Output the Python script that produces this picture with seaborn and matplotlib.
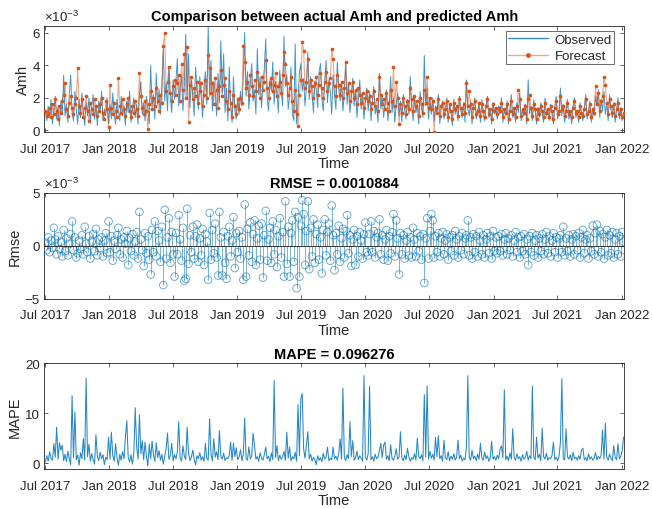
import numpy as np
import pandas as pd
import matplotlib
matplotlib.use("Agg")
import matplotlib.pyplot as plt
import matplotlib.dates as mdates
from matplotlib.lines import Line2D
import seaborn as sns

# ---------------- data (Amh values in units of 1e-3, sampled every 4 days) ----------------
start_date = "2017-07-03"
step_days = 4

observed = [
    1.1, 0.6, 1.5, 0.8, 1.9, 0.4, 1.2, 2.1, 0.7, 1.4, 0.3, 1.8, 1.0, 3.4, 0.9, 1.6, 0.5, 2.2, 3.4, 1.1, 0.6, 2.4, 1.3,
    0.4, 1.9, 0.8, 2.3, 1.2, 0.3, 1.7, 0.9, 2.0, 0.5, 1.4, 2.2, 0.7, 1.5, 0.3, 1.8, 1.1, 2.4, 0.6, 1.3, 0.9, 2.0, 0.4,
    1.6, 0.7, 2.3, 1.0, 0.4, 1.9, 1.2, 0.6, 2.1, 0.9, 1.5, 0.3, 1.8, 1.1, 2.4, 0.5, 1.3, 2.0, 0.8, 1.6, 0.4, 2.2, 3.0,
    1.0, 1.7, 0.6, 2.1, 1.3, 0.4, 4.0, 1.5, 2.2, 0.7, 3.5, 1.6, 2.5, 1.0, 2.8, 5.0, 1.8, 2.9, 1.2, 3.9, 2.0, 1.1, 3.1,
    1.9, 3.0, 4.4, 1.5, 2.6, 3.4, 1.2, 2.8, 5.9, 2.0, 4.7, 1.4, 3.1, 2.2, 0.9, 3.9, 2.5, 1.3, 3.3, 2.0, 0.8, 2.7, 3.6,
    1.6, 6.4, 2.1, 4.3, 1.2, 3.0, 2.4, 0.9, 3.5, 1.7, 5.5, 2.3, 4.7, 1.1, 2.6, 0.6, 3.9, 1.4, 0.5, 3.3, 1.2, 0.7, 2.0,
    1.0, 2.4, 1.5, 3.2, 6.0, 2.1, 3.6, 1.3, 2.8, 4.1, 1.8, 2.5, 1.0, 5.0, 2.2, 3.3, 1.4, 2.9, 3.8, 5.6, 2.0, 1.2, 3.1,
    2.4, 4.2, 1.6, 3.0, 2.2, 1.1, 3.7, 2.5, 1.5, 5.8, 2.7, 3.4, 1.3, 2.1, 3.9, 1.0, 0.6, 5.3, 0.4, 1.8, 3.6, 4.1, 2.4,
    3.2, 1.5, 2.7, 4.8, 1.9, 3.3, 2.2, 1.1, 3.0, 2.5, 1.4, 3.6, 4.1, 2.0, 1.2, 2.9, 4.3, 1.7, 3.1, 2.4, 1.0, 3.4, 2.2,
    1.3, 4.2, 2.6, 1.8, 3.0, 1.2, 2.3, 4.1, 1.6, 2.8, 1.1, 2.0, 3.2, 1.5, 2.5, 0.8, 1.9, 3.1, 1.3, 2.2, 0.7, 1.7, 2.6,
    1.2, 2.4, 0.6, 1.8, 2.7, 1.0, 1.5, 0.5, 3.5, 1.3, 2.1, 0.8, 1.7, 2.5, 0.6, 1.4, 3.3, 1.1, 2.0, 0.5, 1.6, 2.3, 0.9,
    1.8, 0.5, 2.2, 1.2, 0.7, 1.9, 1.0, 3.3, 1.4, 0.6, 2.1, 1.1, 1.6, 0.4, 2.4, 1.3, 0.8, 4.6, 1.5, 2.6, 0.7, 1.9, 1.0,
    2.0, 0.6, 1.5, 1.0, 2.2, 0.4, 1.3, 1.8, 0.7, 1.2, 2.0, 0.5, 1.6, 1.1, 0.3, 1.9, 1.0, 1.4, 0.6, 2.1, 1.2, 0.8, 1.7,
    0.5, 3.1, 1.3, 0.9, 1.8, 0.4, 1.4, 2.0, 0.7, 1.1, 1.6, 0.5, 1.9, 1.0, 0.6, 1.5, 2.1, 0.8, 1.2, 0.4, 1.7, 1.0, 1.4,
    0.7, 1.5, 1.0, 2.0, 0.5, 1.3, 0.9, 1.8, 0.4, 1.2, 2.2, 0.8, 1.4, 0.5, 1.7, 1.1, 2.3, 0.6, 1.3, 0.9, 1.6, 0.4, 3.1,
    1.0, 1.5, 0.6, 1.9, 1.2, 0.4, 1.4, 0.8, 1.7, 1.1, 0.5, 2.0, 0.9, 1.3, 0.6, 1.6, 1.0, 0.4, 1.5, 2.1, 0.7, 1.2, 2.6,
    0.9, 1.6, 0.5, 1.3, 1.9, 0.7, 1.1, 0.4, 1.5, 2.0, 0.8, 1.2, 0.5, 1.7, 1.0, 0.6, 1.4, 2.2, 0.7, 1.1, 1.8, 0.5, 1.3,
    0.9, 2.1, 1.5, 2.5, 0.8, 1.9, 1.2, 2.4, 1.0, 1.6, 0.6, 2.2, 1.3, 0.8, 1.7, 0.5, 1.2, 2.0, 0.7, 1.4, 0.6, 1.0,
]

forecast = [
    1.2, 0.9, 1.1, 1.4, 0.8, 1.6, 1.0, 1.9, 1.2, 0.7, 1.5, 1.1, 1.8, 2.2, 2.9, 1.3, 0.9, 1.7, 2.1, 1.4, 1.0, 1.6, 2.0,
    3.8, 1.5, 1.1, 1.9, 0.8, 1.4, 2.1, 1.2, 0.6, 1.7, 1.3, 1.0, 1.9, 1.5, 0.9, 1.2, 1.6, 2.0, 1.1, 0.7, 1.8, 1.3, 0.2,
    2.8, 1.4, 1.0, 1.7, 1.2, 0.8, 3.2, 1.5, 1.1, 1.9, 1.3, 0.9, 1.6, 2.0, 1.2, 0.8, 1.5, 1.1, 1.8, 1.3, 0.9, 3.5, 2.1,
    1.4, 1.0, 1.8, 1.2, 0.1, 1.6, 2.4, 1.3, 2.0, 1.5, 2.6, 1.8, 1.2, 2.2, 1.7, 5.2, 6.0, 2.4, 3.0, 3.9, 2.3, 1.8, 2.7,
    3.1, 2.2, 2.9, 3.4, 1.8, 4.1, 2.5, 4.7, 2.0, 5.1, 0.5, 2.8, 3.3, 1.9, 2.6, 2.1, 3.0, 1.7, 2.4, 2.9, 1.5, 2.2, 3.1,
    2.0, 4.6, 3.8, 2.3, 2.9, 1.6, 3.2, 2.5, 1.4, 2.7, 3.7, 2.1, 2.8, 3.2, 1.8, 1.3, 2.4, 1.7, 0.8, 2.2, 1.5, 1.0, 1.9,
    1.3, 2.0, 1.7, 5.2, 4.2, 2.6, 3.0, 2.2, 3.4, 2.7, 2.1, 3.1, 2.4, 3.6, 2.8, 2.0, 3.3, 2.5, 3.0, 4.3, 2.6, 2.0, 2.9,
    3.2, 2.4, 2.8, 3.5, 2.1, 2.7, 3.0, 2.3, 3.4, 4.8, 4.1, 2.9, 2.2, 2.6, 3.3, 1.8, 1.2, 2.5, 1.0, 0.3, 2.2, 3.1, 5.4,
    4.9, 2.6, 3.0, 4.4, 2.4, 3.1, 2.7, 2.0, 2.9, 3.3, 2.2, 2.8, 3.5, 2.6, 2.0, 3.0, 3.6, 2.4, 2.9, 3.2, 5.0, 4.4, 2.7,
    2.1, 3.4, 2.8, 2.2, 3.0, 2.0, 2.6, 4.2, 2.3, 2.9, 1.8, 2.4, 3.0, 2.0, 2.5, 1.6, 2.6, 2.2, 1.7, 2.3, 1.4, 2.0, 2.4,
    1.8, 2.1, 1.3, 1.7, 2.4, 1.5, 1.9, 1.2, 3.3, 2.2, 1.6, 1.9, 1.3, 2.3, 1.7, 1.2, 2.5, 1.8, 3.9, 1.5, 3.0, 2.0, 0.4,
    1.6, 1.1, 2.0, 1.5, 1.0, 1.8, 1.3, 2.6, 1.9, 1.2, 2.1, 1.5, 1.8, 0.9, 2.0, 1.6, 1.1, 2.5, 1.7, 3.3, 1.4, 2.0, 1.3,
    1.8, -0.1, 1.4, 1.1, 1.9, 0.9, 1.5, 1.7, 1.0, 1.3, 1.8, 0.8, 1.6, 1.2, 0.7, 1.7, 1.3, 1.5, 0.9, 1.9, 1.4, 1.0, 1.6,
    1.1, 2.9, 1.5, 2.4, 1.6, 0.8, 1.4, 1.8, 1.0, 1.2, 1.7, 0.9, 1.6, 1.2, 0.8, 1.5, 1.9, 1.0, 1.3, 0.7, 1.6, 1.2, 1.4,
    1.0, 1.4, 1.2, 1.7, 0.8, 1.3, 1.1, 1.6, 0.7, 1.2, 1.8, 1.0, 1.4, 0.8, 1.5, 2.5, 1.9, 0.9, 1.3, 1.1, 1.5, 0.7, 1.9,
    2.2, 1.4, 0.9, 1.6, 1.3, 0.7, 1.3, 1.0, 1.5, 1.2, 0.8, 1.7, 1.1, 1.3, 0.8, 1.5, 1.2, 0.7, 1.4, 1.8, 1.0, 1.2, 2.1,
    1.3, 1.5, 0.9, 1.2, 1.7, 1.0, 1.2, 0.8, 1.4, 1.8, 1.1, 1.2, 0.8, 1.5, 1.1, 0.9, 1.3, 1.9, 1.0, 1.2, 1.6, 0.8, 1.3,
    1.1, 2.7, 1.6, 2.3, 1.2, 1.8, 2.1, 3.3, 2.8, 1.7, 1.0, 1.9, 1.5, 1.1, 1.6, 0.9, 1.3, 1.7, 1.0, 1.3, 0.8, 1.1,
]

# residuals (units of 1e-3)
error = [
    0.3, -0.4, 0.8, -0.6, 0.5, -0.2, 1.7, 0.6, -0.8, 0.9, -0.3, 0.4, -1.0, 1.5, -0.5, 0.7, -0.9, 0.2, 1.1, 2.3, -0.4, 0.8, -1.1,
    -0.7, 0.5, -0.3, 1.0, -0.8, 1.8, 0.2, -0.6, 0.9, -1.2, 0.4, 1.1, -0.5, 1.6, -0.9, 0.6, -0.2, 0.8, -1.0, 0.5, 1.2, -0.7, 2.3,
    -0.6, 0.9, -1.4, 0.5, -0.3, 1.0, 1.7, -0.8, 0.6, -1.1, 0.8, 0.2, 1.4, -1.8, 0.7, -0.5, 1.1, -0.9, 0.4, 1.3, -1.2, 3.2, 0.6,
    -0.4, -1.9, 1.2, -0.7, 0.9, -1.3, -2.7, 1.5, -0.6, 2.3, -1.0, 1.4, 0.5, -1.5, 1.8, -3.7, 3.4, -1.2, 0.8, 2.6, -1.6, 1.3, -0.8,
    -2.9, 1.2, -0.8, 2.9, 0.6, -1.4, 1.7, -3.3, -3.1, 3.5, -1.7, 1.0, -0.6, 1.8, -1.2, 0.9, 2.0, -1.5, 0.7, -0.9, 1.6, -1.8, 1.1,
    0.4, -3.2, 3.1, -1.3, 1.5, -0.7, 2.1, -1.1, -2.8, 3.2, 0.8, -2.8, 1.3, -1.6, -3.1, 0.9, 1.8, -1.0, 0.5, 2.7, -2.1, 1.2, -0.6,
    1.4, -1.2, 0.8, -3.2, 3.9, -2.9, 1.6, -0.9, 2.2, -1.5, 1.1, 2.4, -1.8, 0.7, 1.9, -1.3, 2.1, -3.0, 1.0, 3.3, -1.4, 0.6, 1.7,
    -1.6, 2.3, -0.8, 1.5, -2.0, 0.9, 2.6, -1.1, 1.3, -2.9, 4.2, -1.7, 1.8, -2.9, 1.2, 2.4, -1.5, 3.2, -4.0, 2.7, -2.9, 1.9, 4.3,
    3.0, -1.8, 1.4, 4.2, -2.2, 1.7, -1.0, 2.5, -1.6, 1.1, 2.0, -1.3, 0.8, -2.6, 1.5, 2.5, -0.9, 1.3, 2.1, -1.4, 3.8, 1.0, -2.3,
    1.2, -0.8, 1.9, -1.5, 0.7, 1.6, -1.1, 1.4, 2.9, -0.7, 1.0, -1.9, 0.6, 1.5, -1.8, 0.9, -1.0, 1.3, 0.5, -1.2, 1.1, 2.2, -0.6,
    -0.9, 1.1, 2.3, -0.6, 1.4, -1.1, 0.8, 1.2, 2.5, -0.8, 1.0, -1.3, 0.6, 1.5, -1.4, 0.9, -0.7, 1.3, 3.0, -1.0, 2.4, 0.7, -2.7,
    1.2, -0.8, 1.0, -1.2, 0.5, 1.3, -0.9, 0.8, -1.1, 1.7, 0.6, -1.0, 1.2, -0.5, 0.9, -1.3, 1.1, -3.5, 0.7, 2.6, -1.2, 1.4, 3.0,
    2.4, -1.1, 0.9, -0.6, 1.2, -1.0, 0.7, 1.3, -0.8, 0.5, 1.1, -1.3, 0.8, -0.5, 1.0, -0.9, 1.4, 0.6, -1.1, 0.9, -0.4, 1.2, -0.8,
    0.7, 1.0, 2.4, -0.9, 0.8, -1.2, 1.1, -0.6, 0.9, -1.0, 1.3, 0.5, -0.8, 1.0, -1.1, 0.6, 1.2, -0.7, 0.9, -1.2, 1.4, -0.5, 0.8,
    -0.7, 0.9, -0.5, 1.1, -0.9, 0.6, 1.2, -0.8, 0.7, -0.4, 1.0, -1.0, 0.5, 1.3, -0.6, 0.8, -1.1, 0.9, -0.5, 1.1, -0.8, 0.6, -1.8,
    0.9, -0.6, 1.2, -0.9, 0.5, 1.0, -1.1, 0.7, -0.5, 1.1, -0.8, 0.6, 1.3, -0.7, 0.9, -1.0, 0.5, 1.2, -0.6, 0.8, -1.1, 0.7, 1.0,
    -0.6, 1.8, -0.9, 0.7, -0.5, 1.0, -1.0, 0.6, 1.1, -0.8, 0.9, -0.4, 1.2, -1.1, 0.8, 1.5, -0.7, 0.6, 1.0, -1.2, 0.7, -0.5, 1.9,
    -0.8, 1.2, 2.0, -1.0, 1.4, -0.6, 1.1, -1.2, 0.8, 1.5, -0.9, 1.0, -0.7, 1.3, -1.1, 0.6, 1.2, -0.8, 0.9, -1.0, 1.3, 0.4,
]

mape = [
    0.2, 1.5, 0.4, 2.3, 1.0, 0.6, 3.9, 1.2, 7.2, 0.8, 4.1, 2.6, 3.6, 0.5, 1.8, 0.3, 2.4, 0.9, -0.3, 13.5, 1.1, 10.2, 0.7,
    1.6, -0.4, 2.1, 0.9, 4.9, 0.6, 17.0, 1.3, 3.8, 0.4, 1.9, 0.8, -0.2, 5.7, 1.4, 0.5, 2.2, 0.9, 1.7, -0.3, 1.2, 0.7, 5.2,
    0.8, 6.2, 1.5, 0.4, 3.9, 1.1, -0.4, 1.8, 0.6, 2.3, 0.9, 5.2, 8.5, 1.2, 0.3, 1.7, -0.2, 2.0, 11.1, 3.4, 0.8, 9.7, 1.9,
    4.5, 0.7, 4.2, 1.3, -0.5, 3.8, 0.9, 4.4, 1.6, 0.4, 4.1, 1.1, 2.5, 0.6, 1.8, -0.2, 1.4, 2.9, 6.0, 0.8, 1.5, 4.0, 0.5,
    1.7, 0.9, 2.2, 8.3, 1.0, 0.4, 3.5, 1.4, 0.7, 7.2, 2.0, 0.5, 1.2, 2.6, 0.8, -0.3, 1.5, 0.9, 2.1, 0.6, 1.3, 0.4, 4.0,
    1.0, 0.6, 8.9, 1.7, 0.5, 4.9, 1.2, 2.3, 0.7, 6.5, 1.4, 0.8, 2.0, 0.5, 1.1, 0.9, 1.6, 4.2, 0.6, 4.0, 1.3, 3.1, 0.7,
    1.2, 2.7, 0.5, 1.8, 9.0, 1.0, 0.6, 3.3, 0.9, 1.5, 6.0, 3.5, 0.8, 1.3, 0.4, 2.1, 1.0, 0.6, 1.7, 3.2, 0.9, 1.4, 0.3,
    2.0, 0.7, 16.5, 1.1, 3.5, 0.5, 1.6, 0.8, 1.2, 2.4, 0.6, 6.2, 1.0, 3.2, 0.5, 1.3, 0.9, 2.2, 0.4, 11.7, 1.5, 12.9, 13.9,
    2.8, 1.0, 3.6, 6.3, 0.9, 1.8, 0.4, 1.2, 0.7, -0.3, 1.5, 0.6, 1.1, 0.3, 2.0, 0.8, 1.3, 3.2, 0.5, 1.0, 0.7, 3.2, 0.9,
    1.4, 0.6, 1.9, 4.9, 0.8, 15.0, 1.2, 0.5, 1.7, 0.9, 8.3, 1.3, 4.5, 0.6, 1.1, 2.4, 0.7, 1.5, 1.0, 0.4, 17.5, 1.2, 0.6,
    2.0, 15.4, 0.7, 1.3, 0.4, 1.8, 0.9, 1.2, 2.5, 4.0, 1.1, 3.6, 4.2, 0.8, 1.5, 0.5, 3.7, 1.0, 0.6, 1.4, 2.9, 0.8, 1.2,
    6.3, 1.0, 0.5, 1.6, 0.7, 3.0, 1.3, 0.4, 1.1, 0.8, 1.9, 0.6, 5.0, 1.4, 0.9, 1.7, 0.5, 13.7, 1.2, 15.5, 0.8, 2.4, 1.0,
    1.8, 0.6, 5.2, 1.3, 5.5, 0.9, 1.5, 0.4, 4.6, 1.1, 0.7, 2.3, 0.5, 1.4, 0.8, 1.9, 0.6, 1.2, 4.6, 0.9, 1.6, 0.4, 1.0,
    0.7, 3.1, 17.5, 1.2, 0.6, 2.6, 0.9, 1.4, 0.5, 1.8, 0.8, 4.0, 1.1, 0.6, 2.2, 0.9, 1.5, 0.4, 1.0, 4.4, 0.8, 1.3, 0.6,
    1.6, 0.9, 2.8, 3.5, 1.1, 14.7, 0.7, 1.4, 0.5, 2.1, 0.8, 6.9, 1.2, 0.6, 1.9, 0.9, 1.3, 0.4, 1.7, 0.8, 1.1, 2.4, 0.6,
    1.5, 0.9, 15.4, 1.2, 0.7, 5.2, 1.0, 1.8, 0.5, 7.0, 1.3, 0.8, 2.0, 0.6, 1.1, 0.9, 1.6, 4.2, 0.7, 1.2, 0.5, 1.4, 4.2,
    16.9, 1.0, 0.6, 6.9, 1.3, 0.8, 1.7, 0.5, 2.2, 0.9, 1.2, 0.6, 1.5, 0.8, 2.6, 3.0, 0.7, 1.1, 0.5, 1.9, 0.8, 1.3, 0.6,
    1.0, 2.1, 0.7, 1.4, 0.9, 1.6, 6.7, 0.8, 8.0, 1.2, 0.6, 1.8, 1.0, 0.5, 3.5, 1.1, 0.7, 3.9, 0.9, 1.4, 2.5, 5.2,
]

title_top = "Comparison between actual Amh and predicted Amh"
rmse_value = "0.0010884"
mape_value = "0.096276"
x_ticklabels_fmt = "%b %Y"


def frame(values, name):
    d = pd.date_range(start_date, periods=len(values), freq=f"{step_days}D")
    return pd.DataFrame({"Time": d, name: values})


df_obs = frame(observed, "Observed")
df_fc = frame(forecast, "Forecast")
df_err = frame(error, "Error")
df_mape = frame(mape, "MAPE")

# ---------------- style ----------------
sns.set_theme(style="ticks")
plt.rcParams["font.family"] = ["Liberation Sans", "DejaVu Sans"]
plt.rcParams["mathtext.fontset"] = "custom"
plt.rcParams["mathtext.rm"] = "Liberation Sans"
plt.rcParams["mathtext.it"] = "Liberation Sans:italic"

BLUE = "#0072BD"
ORANGE = "#D95319"
DARK = "#262626"

fig = plt.figure(figsize=(6.52, 5.10), dpi=100)
L, W, H = 0.0675, 0.890, 0.208
ax1 = fig.add_axes([L, 0.739, W, H])
ax2 = fig.add_axes([L, 0.412, W, H])
ax3 = fig.add_axes([L, 0.078, W, H])

# top: observed vs forecast
sns.lineplot(data=df_obs, x="Time", y="Observed", ax=ax1, color=BLUE, lw=0.7, alpha=0.75)
sns.lineplot(data=df_fc, x="Time", y="Forecast", ax=ax1, color=ORANGE, lw=0.8, alpha=0.5)
sns.scatterplot(data=df_fc, x="Time", y="Forecast", ax=ax1, color=ORANGE, s=7, linewidth=0, zorder=3)

# middle: residual stems
ax2.vlines(df_err["Time"], 0, df_err["Error"], color=BLUE, lw=0.5, alpha=0.75)
sns.scatterplot(data=df_err, x="Time", y="Error", ax=ax2, s=30, linewidth=0.65, zorder=3)
coll = ax2.collections[-1]
coll.set_facecolor("none")
coll.set_edgecolor((0.0, 0.447, 0.741, 0.62))
ax2.axhline(0, color="#1a1a1a", lw=0.6, zorder=4)

# bottom: MAPE
sns.lineplot(data=df_mape, x="Time", y="MAPE", ax=ax3, color=BLUE, lw=0.75, alpha=0.85)


def style(ax, ylim, yticks, ylabel, title):
    ax.set_xlim(pd.Timestamp("2017-06-29"), pd.Timestamp("2022-01-08"))
    ax.xaxis.set_major_locator(mdates.MonthLocator(bymonth=[1, 7]))
    ax.xaxis.set_major_formatter(mdates.DateFormatter(x_ticklabels_fmt))
    ax.set_ylim(*ylim)
    ax.set_yticks(yticks)
    ax.tick_params(direction="in", top=True, right=True, length=3, width=0.5,
                   labelsize=9.5, colors=DARK)
    ax.tick_params(axis="x", pad=7.5)
    ax.tick_params(axis="y", pad=3)
    for s in ax.spines.values():
        s.set_visible(True)
        s.set_linewidth(0.6)
        s.set_color(DARK)
    ax.set_xlabel("Time", fontsize=10.5, color=DARK, labelpad=1)
    ax.set_ylabel(ylabel, fontsize=10.5, color=DARK, labelpad=2)
    ax.set_title(title, fontsize=10.5, fontweight="bold", color="black", pad=4)


style(ax1, (-0.1, 6.4), [0, 2, 4, 6], "Amh", title_top)
style(ax2, (-5, 5), [-5, 0, 5], "Rmse", f"RMSE = {rmse_value}")
style(ax3, (-1.2, 20), [0, 10, 20], "MAPE", f"MAPE = {mape_value}")

for ax in (ax1, ax2):
    ax.text(0.0, 1.015, r"$\times10^{-3}$", transform=ax.transAxes, ha="left",
            va="bottom", fontsize=9.5, color=DARK)

handles = [
    Line2D([], [], color=BLUE, lw=1.0, alpha=0.8),
    Line2D([], [], color=(0.851, 0.325, 0.098, 0.5), lw=1.0, marker=".",
           markersize=5, markerfacecolor=ORANGE, markeredgecolor=ORANGE),
]
leg = ax1.legend(handles, ["Observed", "Forecast"], loc="upper right",
                 fontsize=9.5, frameon=True, fancybox=False, handlelength=3.0,
                 borderpad=0.15, labelspacing=0.35, handletextpad=0.5,
                 borderaxespad=0.0, bbox_to_anchor=(0.982, 0.95))
leg.get_frame().set_edgecolor(DARK)
leg.get_frame().set_linewidth(0.6)

fig.savefig("out.png", dpi=100)
